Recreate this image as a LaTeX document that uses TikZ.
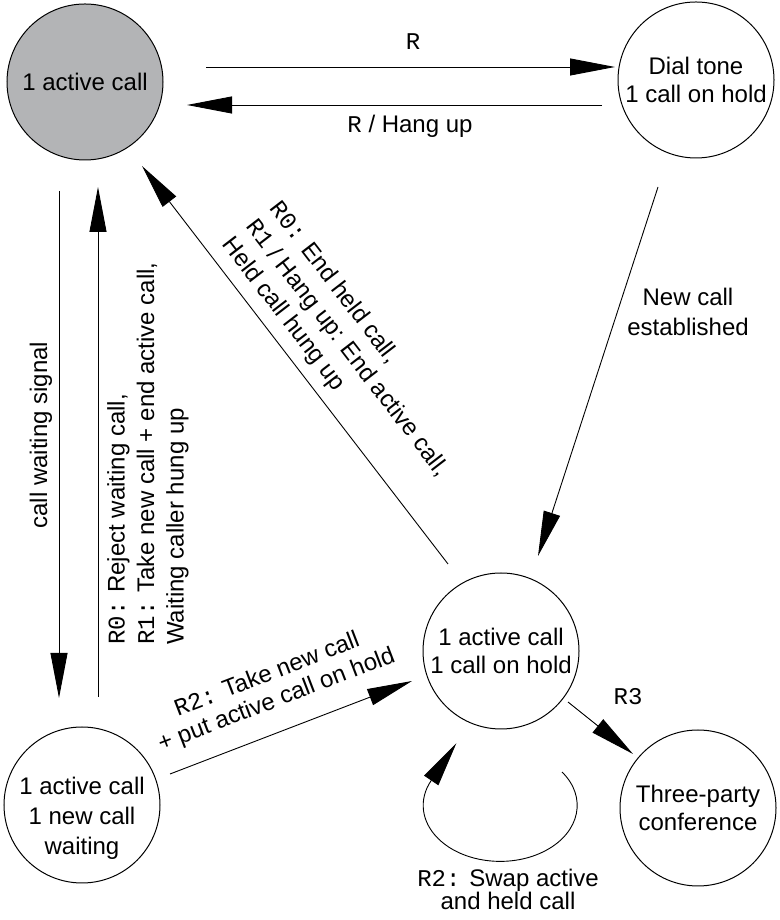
\documentclass[tikz,border=0pt]{standalone}
\usepackage{fontspec}
\setmainfont{Liberation Sans}
\setmonofont{Liberation Mono}
\usetikzlibrary{arrows.meta,calc}
\definecolor{nodegray}{RGB}{179,180,182}
\begin{document}
\begin{tikzpicture}[x=1pt,y=1pt,
  state/.style={circle, draw, line width=1pt, minimum size=156pt, inner sep=0pt, align=center, font=\fontsize{24}{28}\selectfont},
  arr/.style={line width=0.9pt, -{Triangle[length=45pt,width=17pt]}},
  lbl/.style={inner sep=0pt, font=\fontsize{24}{29.5}\selectfont}]
\useasboundingbox (0,0) rectangle (779,920);
\node[state, fill=nodegray] (A) at (85,838) {1 active call};
\node[state] (B) at (696,840) {Dial tone\\1 call on hold};
\node[state] (C) at (501,269) {1 active call\\1 call on hold};
\node[state] (D) at (698,112) {Three-party\\conference};
\node[state] (E) at (82,115) {};
\node[lbl, align=center, font=\fontsize{24}{30}\selectfont] (Et) at ($(E)+(0,-13)$) {1 active call\\1 new call\\waiting};
% connectors
\draw[arr] ($(A)+(121,15)$) -- ($(B)+(-81,13)$);
\draw[arr] ($(B)+(-94,-25)$) -- ($(A)+(102,-23)$);
\draw[arr] ($(A)+(-26,-109)$) -- ($(E)+(-23,107)$);
\draw[arr] ($(E)+(16,108)$) -- ($(A)+(13,-105)$);
\draw[arr] ($(C)+(-53,87)$) -- ($(A)+(57,-84)$);
\draw[arr] ($(B)+(-38,-107)$) -- ($(C)+(37,95)$);
\draw[arr] ($(E)+(88,31)$) -- ($(C)+(-89,-30)$);
\draw[arr] ($(C)+(67,-51)$) -- ($(D)+(-65,54)$);
\draw[arr] ($(C)+(61,-121)$) arc[start angle=36.6, end angle=-206.4, x radius=77, y radius=56] -- ++(56:45);
% labels
\node[lbl] (lR) at (413,878) {\texttt{R}};
\node[lbl] (lRH) at (410,794) {\texttt{R} / Hang up};
\node[lbl, rotate=90] (lcw) at (41,485) {call waiting signal};
\node[lbl, rotate=90, anchor=west, align=left] (lrej) at (148,275) {\texttt{R0:} Reject waiting call,\\\texttt{R1:} Take new call + end active call,\\Waiting caller hung up};
\node[lbl, rotate=-52.4, anchor=west, align=left] (lend) at (250,697) {\texttt{R0:} End held call,\\\texttt{R1} / Hang up: End active call,\\Held call hung up};
\node[lbl, align=center, font=\fontsize{24}{30}\selectfont] (lnew) at (688,608) {New call\\established};
\node[lbl, rotate=21, align=center, font=\fontsize{24}{27}\selectfont] (ltake) at (272,232) {\texttt{R2:} Take new call\\+ put active call on hold};
\node[lbl] (lR3) at (628,223) {\texttt{R3}};
\node[lbl, align=center, font=\fontsize{24}{23}\selectfont] (lswap) at (508,31) {\texttt{R2:} Swap active\\and held call};
\end{tikzpicture}
\end{document}
